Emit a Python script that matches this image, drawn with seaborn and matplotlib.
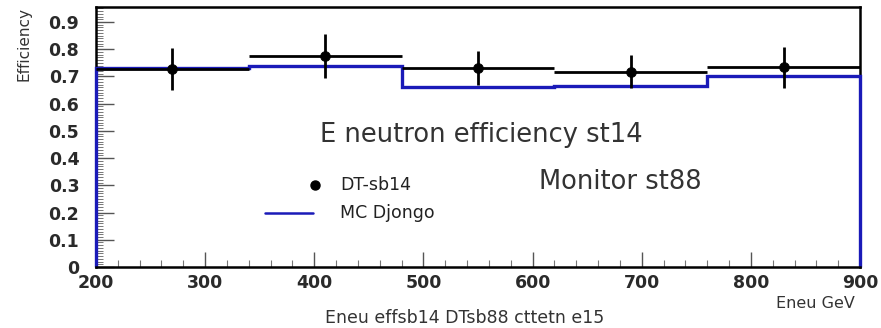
import numpy as np
import pandas as pd
import matplotlib
matplotlib.use("Agg")
import matplotlib.pyplot as plt
import seaborn as sns
from matplotlib.ticker import MultipleLocator

# ---- data ----
bin_edges = [200, 340, 480, 620, 760, 900]
bin_centers = [270, 410, 550, 690, 830]
dt_eff = [0.728, 0.776, 0.730, 0.717, 0.733]
dt_err = [0.077, 0.080, 0.063, 0.060, 0.075]
mc_eff = [0.732, 0.738, 0.662, 0.664, 0.702]
x_ticks = [200, 300, 400, 500, 600, 700, 800, 900]
y_ticks = [0, 0.1, 0.2, 0.3, 0.4, 0.5, 0.6, 0.7, 0.8, 0.9]

sns.set_style("ticks")
plt.rcParams['font.family'] = ['DejaVu Sans']

fig = plt.figure(figsize=(8.81, 3.28), dpi=100)
ax = fig.add_axes([96/881, 1-267/328, (860-96)/881, (267-7)/328])

BLUE = "#1a1ab8"
TXT = "#333333"

# MC histogram (step outline, down to zero at the ends)
ax.stairs(mc_eff, bin_edges, baseline=0, color=BLUE, linewidth=2.4, zorder=3,
          clip_on=False)

# DT points with error bars
half_w = [(bin_edges[i+1]-bin_edges[i])/2 for i in range(len(bin_centers))]
ax.errorbar(bin_centers, dt_eff, yerr=dt_err, xerr=half_w, fmt="none",
            ecolor="black", elinewidth=2.0, capsize=0, zorder=4)
df = pd.DataFrame({"E": bin_centers, "eff": dt_eff})
sns.scatterplot(data=df, x="E", y="eff", ax=ax, color="black", s=50,
                edgecolor="black", zorder=5, legend=False)

ax.set_xlim(200, 900)
ax.set_ylim(0, 0.955)
ax.set_xticks(x_ticks)
ax.set_yticks(y_ticks)
ax.set_yticklabels(["0" if v == 0 else f"{v:.1f}" for v in y_ticks])
ax.xaxis.set_minor_locator(MultipleLocator(20))
ax.yaxis.set_minor_locator(MultipleLocator(0.01))
ax.tick_params(axis="x", which="major", direction="in", length=11, width=1,
               labelsize=12.5, colors="#555555", pad=5)
ax.tick_params(axis="y", which="major", direction="in", length=13, width=1,
               labelsize=12.5, colors="#555555", pad=12)
ax.tick_params(axis="x", which="minor", direction="in", length=5, width=0.8,
               colors="#777777")
ax.tick_params(axis="y", which="minor", direction="in", length=5, width=0.7,
               colors="#777777")
for lab in ax.get_xticklabels() + ax.get_yticklabels():
    lab.set_fontweight("bold")
    lab.set_color("#2a2a2a")
for s in ax.spines.values():
    s.set_linewidth(1.8)
    s.set_color("black")
ax.spines["bottom"].set_zorder(6)
ax.set_xlabel("")
ax.set_ylabel("")

# texts
fig.text(24/881, 1-44/328, "Efficiency", rotation=90, ha="center", va="center",
         fontsize=11, color=TXT)
fig.text(815/881, 1-303/328, "Eneu GeV", ha="center", va="center",
         fontsize=11.5, color=TXT)
fig.text(465/881, 1-318/328, "Eneu effsb14 DTsb88 cttetn e15", ha="center",
         va="center", fontsize=12.5, color=TXT)
ax.text(553, 0.485, "E neutron efficiency st14", ha="center", va="center",
        fontsize=18.5, color=TXT)
ax.text(680, 0.312, "Monitor st88", ha="center", va="center",
        fontsize=18.5, color=TXT)

# legend (manual)
ax.plot([400.6], [0.301], marker="o", color="black", markersize=6.5)
ax.text(423.6, 0.301, "DT-sb14", ha="left", va="center", fontsize=12.5, color="#222222")
ax.plot([354.8, 398.8], [0.2, 0.2], color=BLUE, linewidth=1.8)
ax.text(423.6, 0.2, "MC Djongo", ha="left", va="center", fontsize=12.5, color="#222222")

fig.savefig("out.png", dpi=100, facecolor="white")
